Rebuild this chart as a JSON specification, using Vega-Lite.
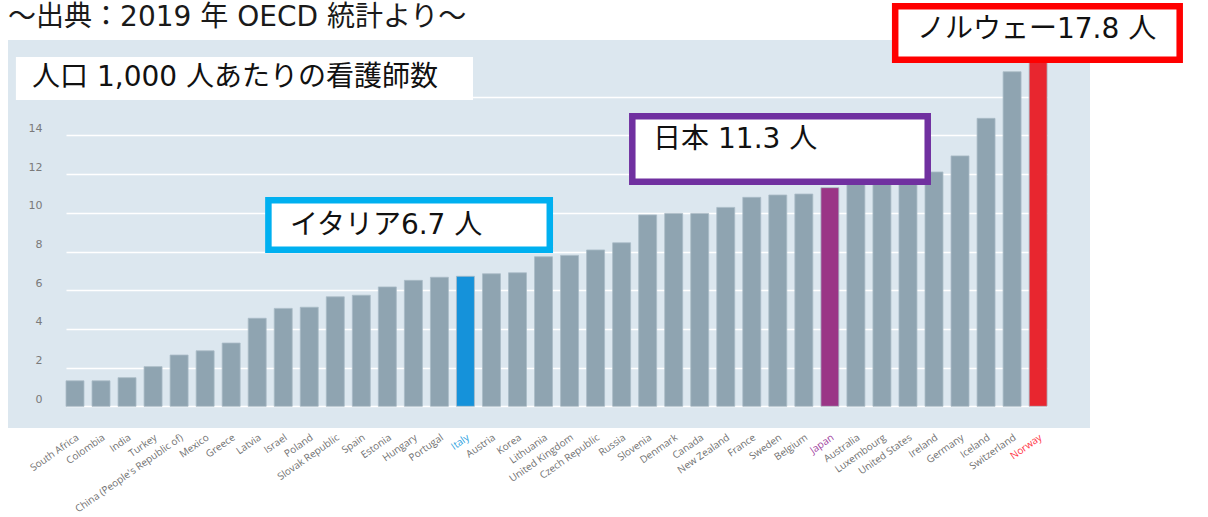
{
  "$schema": "https://vega.github.io/schema/vega-lite/v6.json",
  "width": 1082,
  "height": 388,
  "autosize": {"type": "none"},
  "padding": {"left": 8, "top": 40, "right": 118, "bottom": 89},
  "background": "white",
  "config": {"view": {"fill": "#dce7ef", "stroke": null}},
  "data": {"values": [
    {"country": "South Africa", "nurses": 1.32},
    {"country": "Colombia", "nurses": 1.32},
    {"country": "India", "nurses": 1.48},
    {"country": "Turkey", "nurses": 2.05},
    {"country": "China (People's Republic of)", "nurses": 2.65},
    {"country": "Mexico", "nurses": 2.87},
    {"country": "Greece", "nurses": 3.27},
    {"country": "Latvia", "nurses": 4.55},
    {"country": "Israel", "nurses": 5.06},
    {"country": "Poland", "nurses": 5.12},
    {"country": "Slovak Republic", "nurses": 5.66},
    {"country": "Spain", "nurses": 5.74},
    {"country": "Estonia", "nurses": 6.17},
    {"country": "Hungary", "nurses": 6.51},
    {"country": "Portugal", "nurses": 6.67},
    {"country": "Italy", "nurses": 6.72},
    {"country": "Austria", "nurses": 6.85},
    {"country": "Korea", "nurses": 6.9},
    {"country": "Lithuania", "nurses": 7.73},
    {"country": "United Kingdom", "nurses": 7.8},
    {"country": "Czech Republic", "nurses": 8.08},
    {"country": "Russia", "nurses": 8.45},
    {"country": "Slovenia", "nurses": 9.89},
    {"country": "Denmark", "nurses": 9.97},
    {"country": "Canada", "nurses": 9.97},
    {"country": "New Zealand", "nurses": 10.28},
    {"country": "France", "nurses": 10.8},
    {"country": "Sweden", "nurses": 10.92},
    {"country": "Belgium", "nurses": 10.97},
    {"country": "Japan", "nurses": 11.3},
    {"country": "Australia", "nurses": 11.6},
    {"country": "Luxembourg", "nurses": 11.7},
    {"country": "United States", "nurses": 11.9},
    {"country": "Ireland", "nurses": 12.11},
    {"country": "Germany", "nurses": 12.94},
    {"country": "Iceland", "nurses": 14.88},
    {"country": "Switzerland", "nurses": 17.29},
    {"country": "Norway", "nurses": 17.8}
  ]},
  "layer": [
    {
      "mark": {"type": "bar", "stroke": "#a9bbc6", "strokeWidth": 0.8},
      "encoding": {
        "x": {
          "field": "country", "type": "nominal", "sort": null,
          "scale": {"range": [58, 1039.1], "paddingInner": 0.31, "paddingOuter": 0},
          "axis": {
            "title": null, "domain": false, "ticks": false, "grid": false,
            "labelAngle": -35, "labelPadding": 4, "labelFont": "Open Sans", "labelFontSize": 10, "labelLimit": 300,
            "labelColor": {"expr": "datum.value === 'Italy' ? '#2a9fe0' : datum.value === 'Japan' ? '#a03ea0' : datum.value === 'Norway' ? '#ff3344' : '#707070'"}
          }
        },
        "y": {
          "field": "nurses", "type": "quantitative",
          "scale": {"domain": [-1.12, 18.93], "nice": false, "zero": false},
          "axis": {
            "title": null, "values": [0, 2, 4, 6, 8, 10, 12, 14, 16],
            "labelExpr": "datum.value == 16 ? '' : datum.label",
            "domain": false, "ticks": false, "grid": true, "gridColor": "#ffffff", "gridWidth": 1.5,
            "labelPadding": -34, "labelOffset": -7, "labelFont": "DejaVu Sans", "labelFontSize": 11, "labelColor": "#7a7a7a"
          }
        },
        "y2": {"datum": 0},
        "color": {
          "condition": [
            {"test": "datum.country === 'Italy'", "value": "#1592da"},
            {"test": "datum.country === 'Japan'", "value": "#9a3586"},
            {"test": "datum.country === 'Norway'", "value": "#e8262f"}
          ],
          "value": "#8fa4b1"
        }
      }
    },
    {
      "data": {"values": [{}]},
      "mark": {"type": "rect", "fill": "#ffffff"},
      "encoding": {
        "x": {"datum": -2.27, "type": "quantitative", "scale": {"domain": [-2.574, 38.994], "nice": false, "zero": false}, "axis": null},
        "x2": {"datum": 15.29},
        "y": {"datum": 15.83, "type": "quantitative", "scale": {"domain": [-1.12, 18.93], "nice": false, "zero": false}, "axis": null},
        "y2": {"datum": 18.05}
      }
    },
    {
      "data": {"values": [{}]},
      "mark": {"type": "rect", "fill": "#ffffff", "stroke": "#00b0f0", "strokeWidth": 6.5},
      "encoding": {
        "x": {"datum": 7.43, "type": "quantitative", "scale": {"domain": [-2.574, 38.994], "nice": false, "zero": false}, "axis": null},
        "x2": {"datum": 18.24},
        "y": {"datum": 8.09, "type": "quantitative", "scale": {"domain": [-1.12, 18.93], "nice": false, "zero": false}, "axis": null},
        "y2": {"datum": 10.65}
      }
    },
    {
      "data": {"values": [{}]},
      "mark": {"type": "rect", "fill": "#ffffff", "stroke": "#7030a0", "strokeWidth": 6.5},
      "encoding": {
        "x": {"datum": 21.41, "type": "quantitative", "scale": {"domain": [-2.574, 38.994], "nice": false, "zero": false}, "axis": null},
        "x2": {"datum": 32.76},
        "y": {"datum": 11.61, "type": "quantitative", "scale": {"domain": [-1.12, 18.93], "nice": false, "zero": false}, "axis": null},
        "y2": {"datum": 14.99}
      }
    },
    {
      "data": {"values": [{}]},
      "mark": {"type": "rect", "fill": "#ffffff", "stroke": "#ff0000", "strokeWidth": 6.5},
      "encoding": {
        "x": {"datum": 31.51, "type": "quantitative", "scale": {"domain": [-2.574, 38.994], "nice": false, "zero": false}, "axis": null},
        "x2": {"datum": 42.44},
        "y": {"datum": 17.91, "type": "quantitative", "scale": {"domain": [-1.12, 18.93], "nice": false, "zero": false}, "axis": null},
        "y2": {"datum": 20.67}
      }
    },
    {
      "data": {"values": [{}]},
      "mark": {"type": "text", "align": "left", "baseline": "middle", "font": "DejaVu Sans, Noto Sans CJK JP", "fontSize": 28, "color": "#1a1a1a", "text": "～出典：2019 年 OECD 統計より～"},
      "encoding": {
        "x": {"datum": -2.57, "type": "quantitative", "scale": {"domain": [-2.574, 38.994], "nice": false, "zero": false}, "axis": null},
        "y": {"datum": 20.09, "type": "quantitative", "scale": {"domain": [-1.12, 18.93], "nice": false, "zero": false}, "axis": null}
      }
    },
    {
      "data": {"values": [{}]},
      "mark": {"type": "text", "align": "left", "baseline": "middle", "font": "DejaVu Sans, Noto Sans CJK JP", "fontSize": 28, "color": "#111111", "text": "人口 1,000 人あたりの看護師数"},
      "encoding": {
        "x": {"datum": -1.65, "type": "quantitative", "scale": {"domain": [-2.574, 38.994], "nice": false, "zero": false}, "axis": null},
        "y": {"datum": 16.97, "type": "quantitative", "scale": {"domain": [-1.12, 18.93], "nice": false, "zero": false}, "axis": null}
      }
    },
    {
      "data": {"values": [{}]},
      "mark": {"type": "text", "align": "left", "baseline": "middle", "font": "DejaVu Sans, Noto Sans CJK JP", "fontSize": 28, "color": "#111111", "text": "イタリア6.7 人"},
      "encoding": {
        "x": {"datum": 8.26, "type": "quantitative", "scale": {"domain": [-2.574, 38.994], "nice": false, "zero": false}, "axis": null},
        "y": {"datum": 9.32, "type": "quantitative", "scale": {"domain": [-1.12, 18.93], "nice": false, "zero": false}, "axis": null}
      }
    },
    {
      "data": {"values": [{}]},
      "mark": {"type": "text", "align": "left", "baseline": "middle", "font": "DejaVu Sans, Noto Sans CJK JP", "fontSize": 28, "color": "#111111", "text": "日本 11.3 人"},
      "encoding": {
        "x": {"datum": 22.21, "type": "quantitative", "scale": {"domain": [-2.574, 38.994], "nice": false, "zero": false}, "axis": null},
        "y": {"datum": 13.76, "type": "quantitative", "scale": {"domain": [-1.12, 18.93], "nice": false, "zero": false}, "axis": null}
      }
    },
    {
      "data": {"values": [{}]},
      "mark": {"type": "text", "align": "center", "baseline": "middle", "font": "DejaVu Sans, Noto Sans CJK JP", "fontSize": 28, "color": "#111111", "text": "ノルウェー17.8 人"},
      "encoding": {
        "x": {"datum": 36.94, "type": "quantitative", "scale": {"domain": [-2.574, 38.994], "nice": false, "zero": false}, "axis": null},
        "y": {"datum": 19.45, "type": "quantitative", "scale": {"domain": [-1.12, 18.93], "nice": false, "zero": false}, "axis": null}
      }
    }
  ],
  "resolve": {"scale": {"x": "independent", "y": "independent"}}
}
